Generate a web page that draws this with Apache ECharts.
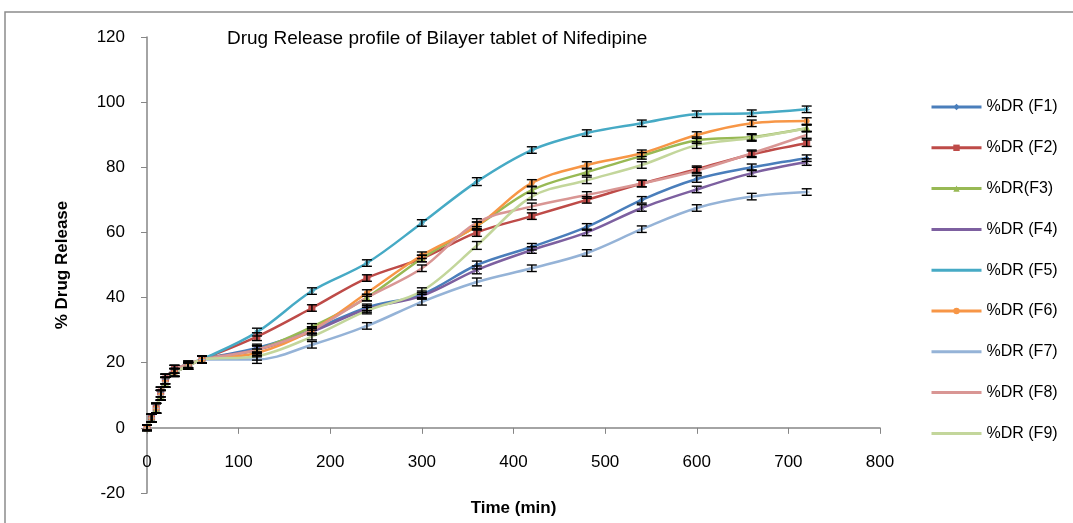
<!DOCTYPE html>
<html>
<head>
<meta charset="utf-8">
<script src="https://cdn.jsdelivr.net/npm/echarts@6/dist/echarts.min.js"></script>
<style>html,body{margin:0;padding:0;background:#fff;}#c{width:1073px;height:523px;}</style>
</head>
<body>
<div id="c"></div>
<script>
const times = [0,5,10,15,20,30,45,60,120,180,240,300,360,420,480,540,600,660,720];
const seriesNames = ['%DR (F1)','%DR (F2)','%DR(F3)','%DR (F4)','%DR (F5)','%DR (F6)','%DR (F7)','%DR (F8)','%DR (F9)'];
const F1 = [0,3,6,10,14,17,19,21,24.5,30,37,41,50,55.6,61.7,70,76.4,80,82.8];
const F2 = [0,3,6,11,15,18,19.5,21,28,36.8,46,52,60,65,70,75,79.4,84,87.4];
const F3 = [0,3,6,10,14,17,19,21,24,31,40,52,62,73,78.5,83.5,88.3,89.3,92];
const F4 = [0,3,6,10,14,17,19,21,24,29.5,36.5,40.5,48.5,54.6,60,67.5,73.2,78.2,81.6];
const F5 = [0,3,6,11,15,18,19.5,21,29.4,42,50.6,62.9,75.6,85.3,90.5,93.5,96.3,96.6,97.8];
const F6 = [0,3,6,10,14,17,19,21,23,30,41.4,53,62,75.2,80.7,84.3,89.9,93.5,94.2];
const F7 = [0,3,6,10,14,17,19,21,21,25.5,31.3,38.7,44.8,49,53.7,61,67.5,71,72.4];
const F8 = [0,3,6,11,15,18,19.5,21,24,30,40,49,63,68,71.5,75,79,84.3,89.9];
const F9 = [0,3,6,10,14,17,19,21,22,28,36,42,56,71,76,80.7,86.8,89,92];
const errors = [0.8,1.2,1.5,1.5,1.5,1.2,1,1,1.2,1,1,1,1.2,1,1,1,1,1,1];
const xTicks = [0,100,200,300,400,500,600,700,800];
const yTicks = [-20,0,20,40,60,80,100,120];

const allData = [F1,F2,F3,F4,F5,F6,F7,F8,F9];
const colors = ['#4A7EBB','#BE4B48','#98B954','#7D60A0','#46AAC5','#F79646','#95B3D7','#D99694','#C3D69B'];
const symbols = ['diamond','rect','triangle','path://M0,0L10,10M10,0L0,10','path://M5,0L5,10M0,5L10,5M1,1L9,9M9,1L1,9','circle','path://M5,0L5,10M0,5L10,5','none','none'];
const symSizes = [5,6,6,6,6,5,6,0,0];
const font = '"Liberation Sans", Arial, sans-serif';

const series = [];
allData.forEach((d, i) => {
  series.push({
    name: seriesNames[i],
    type: 'line',
    smooth: 0.35,
    data: times.map((t, k) => [t, d[k]]),
    symbol: symbols[i],
    symbolSize: symSizes[i],
    showSymbol: symbols[i] !== 'none',
    lineStyle: { color: colors[i], width: 2.5 },
    itemStyle: { color: colors[i], borderColor: colors[i] },
    z: 3,
    animation: false
  });
  series.push({
    type: 'custom',
    data: times.map((t, k) => [t, d[k], errors[k]]),
    renderItem: function (params, api) {
      const x = api.value(0), y = api.value(1), e = api.value(2);
      const hi = api.coord([x, y + e]);
      const lo = api.coord([x, y - e]);
      const w = 5;
      const st = { stroke: '#000', lineWidth: 1.4 };
      return { type: 'group', children: [
        { type: 'line', shape: { x1: hi[0], y1: hi[1], x2: lo[0], y2: lo[1] }, style: st },
        { type: 'line', shape: { x1: hi[0]-w, y1: hi[1], x2: hi[0]+w, y2: hi[1] }, style: st },
        { type: 'line', shape: { x1: lo[0]-w, y1: lo[1], x2: lo[0]+w, y2: lo[1] }, style: st }
      ]};
    },
    z: 4,
    silent: true,
    animation: false
  });
});

const legendData = seriesNames.map((n, i) => symbols[i] === 'none'
  ? { name: n, itemStyle: { opacity: 0 } }
  : { name: n });

const chart = echarts.init(document.getElementById('c'));
chart.setOption({
  backgroundColor: '#fff',
  animation: false,
  title: {
    text: 'Drug Release profile of Bilayer tablet of Nifedipine',
    left: 222, top: 24,
    textStyle: { fontFamily: font, fontSize: 19, fontWeight: 'normal', color: '#000' }
  },
  graphic: [{
    type: 'rect', shape: { x: 5, y: 12, width: 1200, height: 700 },
    style: { fill: 'none', stroke: '#8c8c8c', lineWidth: 1.5 }, silent: true
  }],
  legend: {
    data: legendData,
    orient: 'vertical',
    left: 925, top: 94,
    itemWidth: 50, itemHeight: 8, itemGap: 24.8,
    textStyle: { fontFamily: font, fontSize: 16, color: '#000' },
    lineStyle: { width: 3 }
  },
  grid: { left: 147, right: 193, top: 37, bottom: 30, outerBoundsMode: 'none', containLabel: false },
  xAxis: {
    type: 'value', min: xTicks[0], max: xTicks[xTicks.length-1], interval: 100,
    name: 'Time (min)', nameLocation: 'middle', nameGap: 7,
    nameTextStyle: { fontFamily: font, fontSize: 17, fontWeight: 'bold', color: '#000' },
    axisLine: { onZero: true, lineStyle: { color: '#868686', width: 1.5 } },
    axisTick: { show: true, length: 6, lineStyle: { color: '#868686' } },
    axisLabel: { fontFamily: font, fontSize: 17, color: '#000', margin: -39 },
    splitLine: { show: false }
  },
  yAxis: {
    type: 'value', min: yTicks[0], max: yTicks[yTicks.length-1], interval: 20,
    name: '% Drug Release', nameLocation: 'middle', nameGap: 76,
    nameTextStyle: { fontFamily: font, fontSize: 17, fontWeight: 'bold', color: '#000' },
    axisLine: { show: true, onZero: false, lineStyle: { color: '#868686', width: 1.5 } },
    axisTick: { show: true, length: 6, lineStyle: { color: '#868686' } },
    axisLabel: { fontFamily: font, fontSize: 17, color: '#000', margin: 22 },
    splitLine: { show: false }
  },
  series: series
});
</script>
</body>
</html>
